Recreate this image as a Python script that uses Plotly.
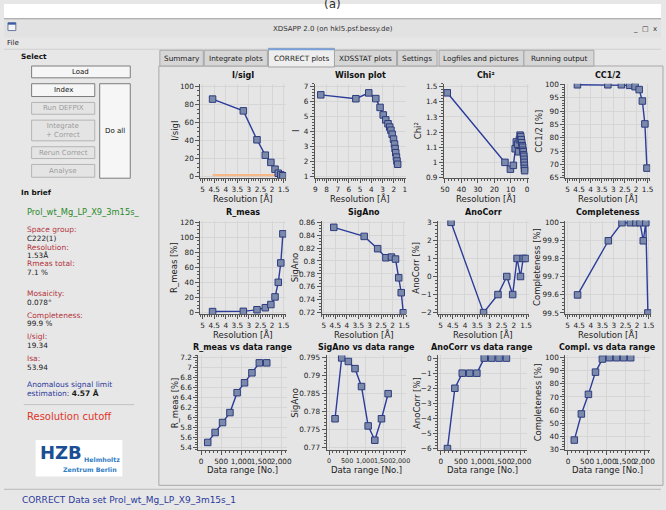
import plotly.graph_objects as go

W, H = 666, 510
FONT = "DejaVu Sans"

# ---------------- data ----------------
res = [4.57, 3.24, 2.65, 2.29, 2.05, 1.87, 1.73, 1.62, 1.53]
isigi = [86, 73, 41, 24, 16, 8.5, 4, 2.2, 1.2]
isigi_cut_x = [4.57, 1.53]
isigi_cut_y = [2, 2]
wilson_res = [8.51, 5.38, 4.23, 3.60, 3.22, 2.94, 2.71, 2.51, 2.36, 2.25, 2.14,
              2.02, 1.93, 1.88, 1.82, 1.76, 1.71, 1.65]
wilson_i = [6.46, 6.20, 6.59, 6.21, 5.62, 5.12, 4.79, 4.53, 4.31, 4.10, 3.83,
            3.51, 3.18, 2.88, 2.60, 2.31, 2.05, 1.83]
chi_res = [48.6, 13.5, 10.2, 8.4, 7.3, 6.6, 5.8, 5.2, 4.7, 4.3, 3.9, 3.6, 3.3,
           3.0, 2.8, 2.6, 2.4, 2.2, 2.05, 1.9, 1.8, 1.7, 1.62, 1.53]
chi2 = [1.46, 1.00, 0.955, 0.98, 1.09, 1.135, 1.12, 1.07, 1.15, 1.18, 1.17, 1.15,
        1.13, 1.11, 1.10, 1.08, 1.07, 1.05, 1.04, 1.02, 1.00, 0.98, 0.96, 0.945]
cc12 = [99.9, 99.9, 99.9, 99.7, 99.2, 98.1, 93.8, 85.2, 68.6]
rmeas = [1.5, 1.8, 3.9, 6.6, 10.8, 20.9, 40.2, 65.9, 104.4]
sigano = [0.852, 0.838, 0.819, 0.805, 0.806, 0.803, 0.774, 0.751, 0.720]
anocorr = [3, -2, -1, 0, -1, 1, 0, 1, 1]
compl = [99.6, 99.9, 100, 100, 100, 100, 99.9, 100, 99.5]

data_range = [165, 350, 535, 720, 900, 1085, 1270, 1455, 1640]
rmeas_dr = [5.5, 5.7, 5.9, 6.1, 6.5, 6.7, 6.9, 7.1, 7.1]
sigano_dr = [0.778, 0.795, 0.794, 0.792, 0.787, 0.776, 0.772, 0.778, 0.785]
anocorr_dr = [-6, -2, -1, -1, -1, 0, 0, 0, 0]
compl_dr = [37, 57, 72, 89, 99, 100, 100, 100, 100]

dr_ticks = [0, 500, 1000, 1500, 2000]
dr_ticktext = ["0", "500", "1,000", "1,500", "2,000"]

tabs = ["Summary", "Integrate plots", "CORRECT plots", "XDSSTAT plots",
        "Settings", "Logfiles and pictures", "Running output"]

# ---------------- helpers ----------------
def PX(x):
    return x / W

def PY(y):
    return 1 - y / H

LINE = "#2b3c9a"
MFILL = "#7b8aaa"
MLINE = "#2e3c7e"

RES_T = "Resolution [Å]"
DR_T = "Data range [No.]"

panels = [
    dict(t="I/sigI", x=res, y=isigi, box=(199, 286, 81, 177), xr=[5.1, 1.39], yr=[-1.5, 103], xd=0.5, yd=20, xt=RES_T, yt="I/sigI", ytx=173),
    dict(t="Wilson plot", x=wilson_res, y=wilson_i, box=(315, 407, 81, 177), xr=[9.05, 0.95], yr=[0.9, 7.2], xd=1, yd=1, xt=RES_T, yt="I", ytx=296),
    dict(t="Chi²", x=chi_res, y=chi2, box=(446, 532, 81, 177), xr=[50.6, -1.0], yr=[0.895, 1.52], xd=10, yd=0.1, xt=RES_T, yt="Chi²", ytx=420),
    dict(t="CC1/2", x=res, y=cc12, box=(569, 655, 81, 177), xr=[5.1, 1.39], yr=[64.8, 100.3], xd=0.5, yd=5, xt=RES_T, yt="CC1/2 [%]", ytx=542),
    dict(t="R_meas", x=res, y=rmeas, box=(199, 286, 220, 315), xr=[5.1, 1.39], yr=[-1.8, 122], xd=0.5, yd=20, xt=RES_T, yt="R_meas [%]", ytx=173),
    dict(t="SigAno", x=res, y=sigano, box=(322, 408, 220, 315), xr=[5.1, 1.39], yr=[0.718, 0.8625], xd=0.5, yd=0.02, xt=RES_T, yt="SigAno", ytx=295),
    dict(t="AnoCorr", x=res, y=anocorr, box=(440, 532, 220, 315), xr=[5.1, 1.39], yr=[-2.08, 3.1], xd=0.5, yd=1, xt=RES_T, yt="AnoCorr [%]", ytx=418),
    dict(t="Completeness", x=res, y=compl, box=(569, 656, 220, 315), xr=[5.1, 1.39], yr=[99.494, 100.012], xd=0.5, yd=0.1, xt=RES_T, yt="Completeness [%]", ytx=541),
    dict(t="R_meas vs data range", x=data_range, y=rmeas_dr, box=(197, 287, 357, 453), xr=[-70, 2150], yr=[5.35, 7.25], xd=None, yd=0.2, xt=DR_T, yt="R_meas [%]", ytx=173),
    dict(t="SigAno vs data range", x=data_range, y=sigano_dr, box=(327, 408, 357, 453), xr=[-70, 2150], yr=[0.7693, 0.7957], xd=None, yd=0.005, xt=DR_T, yt="SigAno", ytx=295),
    dict(t="AnoCorr vs data range", x=data_range, y=anocorr_dr, box=(440, 530, 357, 453), xr=[-70, 2150], yr=[-6.09, 0.18], xd=None, yd=1, xt=DR_T, yt="AnoCorr [%]", ytx=418),
    dict(t="Compl. vs data range", x=data_range, y=compl_dr, box=(569, 655, 357, 453), xr=[-70, 2150], yr=[29.5, 101.8], xd=None, yd=10, xt=DR_T, yt="Completeness [%]", ytx=541),
]

fig = go.Figure()
annotations = []
shapes = []
layout = {}

for i, p in enumerate(panels, start=1):
    x0, x1, y0, y1 = p["box"]
    xa = "xaxis" if i == 1 else f"xaxis{i}"
    ya = "yaxis" if i == 1 else f"yaxis{i}"
    xref = "x" if i == 1 else f"x{i}"
    yref = "y" if i == 1 else f"y{i}"
    common = dict(showline=True, linecolor="#555555", linewidth=1, ticks="outside",
                  ticklen=4, tickcolor="#555555", showgrid=True, gridcolor="#d6d6d6",
                  gridwidth=1, zeroline=False, fixedrange=True, tickangle=0,
                  tickfont=dict(family=FONT, size=7.3, color="#222222"),
                  minor=dict(ticks="outside", ticklen=2, tickcolor="#555555", showgrid=False))
    xcfg = dict(common, domain=[PX(x0), PX(x1)], range=p["xr"], anchor=yref)
    if p["xd"] is None:
        xcfg.update(tickmode="array", tickvals=dr_ticks, ticktext=dr_ticktext)
        xcfg["minor"] = dict(common["minor"], dtick=100)
        if x1 - x0 < 85:
            xcfg["tickfont"] = dict(family=FONT, size=6.4, color="#222222")
    else:
        xcfg.update(dtick=p["xd"], tick0=0)
    ycfg = dict(common, domain=[PY(y1), PY(y0)], range=p["yr"], anchor=xref, dtick=p["yd"], tick0=0)
    layout[xa] = xcfg
    layout[ya] = ycfg
    if i == 1:
        fig.add_trace(go.Scatter(x=isigi_cut_x, y=isigi_cut_y, mode="lines",
                                 line=dict(color="#f5b886", width=2.2),
                                 xaxis=xref, yaxis=yref, showlegend=False, hoverinfo="skip"))
    fig.add_trace(go.Scatter(x=p["x"], y=p["y"], mode="lines+markers",
                             line=dict(color=LINE, width=1.4),
                             marker=dict(symbol="square", size=6.5, color=MFILL,
                                         line=dict(color=MLINE, width=1)),
                             xaxis=xref, yaxis=yref, showlegend=False, hoverinfo="skip"))
    cx = (x0 + x1) / 2
    annotations.append(dict(text=f"<b>{p['t']}</b>", x=PX(cx), y=PY(y0 - 8), xref="paper", yref="paper",
                            showarrow=False, font=dict(family=FONT, size=8, color="#111111"),
                            xanchor="center", yanchor="middle"))
    annotations.append(dict(text=p["xt"], x=PX(cx), y=PY(y1 + 20.5), xref="paper", yref="paper",
                            showarrow=False, font=dict(family=FONT, size=8.5, color="#222222"),
                            xanchor="center", yanchor="middle"))
    annotations.append(dict(text=p["yt"], x=PX(p["ytx"]), y=PY((y0 + y1) / 2), xref="paper", yref="paper",
                            showarrow=False, textangle=-90, font=dict(family=FONT, size=8.5, color="#222222"),
                            xanchor="center", yanchor="middle"))

# ---------------- GUI chrome ----------------
def rect(x0, y0, x1, y1, fill, line="rgba(0,0,0,0)", lw=1):
    shapes.append(dict(type="rect", xref="paper", yref="paper", x0=PX(x0), x1=PX(x1),
                       y0=PY(y1), y1=PY(y0), fillcolor=fill, line=dict(color=line, width=lw),
                       layer="below"))

def hline(x0, x1, y, color, lw=1):
    shapes.append(dict(type="line", xref="paper", yref="paper", x0=PX(x0), x1=PX(x1),
                       y0=PY(y), y1=PY(y), line=dict(color=color, width=lw), layer="below"))

def text(s, x, y, size=7.5, color="#222222", anchor="left", bold=False):
    if bold:
        s = f"<b>{s}</b>"
    annotations.append(dict(text=s, x=PX(x), y=PY(y), xref="paper", yref="paper", showarrow=False,
                            font=dict(family=FONT, size=size, color=color),
                            xanchor=anchor, yanchor="middle"))

# white strip on top + "(a)"
rect(0, 0, W, 15, "#ffffff")
text("(a)", 333, 0, size=12, color="#333333", anchor="center")
# title bar + menu
rect(0, 15, W, 34, "#e2e2e2")
hline(0, W, 15, "#9a9a9a")
rect(4, 19, 12, 27, "#f4f4f4", "#6a7aa0")
rect(4, 19, 12, 21, "#3a5aa8")
text("XDSAPP 2.0 (on hkl5.psf.bessy.de)", 333, 25.5, size=7, color="#333333", anchor="center")
text("_  □  x", 664, 25.5, size=7, color="#333333", anchor="right")
text("File", 1, 40, size=7, color="#222222")
hline(0, W, 46, "#d0d0d0")

# tabs
tab_x = [(158, 202), (203, 267), (268, 335), (335, 398), (399, 439), (441, 527), (527, 598)]
# tab content frame
rect(157, 63, W + 2, 489, "#e5e5e5", "#a9a9a9")
for name, (a, b) in zip(tabs, tab_x):
    if name == "CORRECT plots":
        rect(a, 45, b, 64, "#eeeeee", "#a0a0a0")
        rect(a, 45, b, 47, "#7aa0d8")
    else:
        rect(a, 47, b, 63, "#d6d6d6", "#a6a6a6")
    text(name, (a + b) / 2, 55, size=7.3, color="#222222", anchor="center")

# left panel
text("Select", 15, 53, size=7.3, color="#111111", bold=True)

def button(label, x0, y0, x1, y1, enabled=True):
    if enabled:
        rect(x0, y0, x1, y1, "#f6f6f6", "#7c7c7c")
        col = "#111111"
    else:
        rect(x0, y0, x1, y1, "#e4e4e4", "#b4b4b4")
        col = "#9c9c9c"
    text(label, (x0 + x1) / 2, (y0 + y1) / 2, size=7, color=col, anchor="center")

button("Load", 28, 63, 128, 75)
button("Index", 28, 81, 92, 94)
button("Run DEFPIX", 28, 100, 92, 112, enabled=False)
button("Integrate<br>+ Correct", 28, 118, 92, 139, enabled=False)
button("Rerun Correct", 28, 145, 92, 157, enabled=False)
button("Analyse", 28, 163, 92, 176, enabled=False)
button("Do all", 97, 81, 128, 177)

RED = "#b4343c"
BLK = "#1a1a1a"
text("In brief", 15, 192, size=7.3, color="#111111", bold=True)
text("Prol_wt_Mg_LP_X9_3m15s_", 21, 211, size=8.3, color="#2a8a2a")
info = [("Space group:", "C222(1)", 229), ("Resolution:", "1.53Å", 247),
        ("Rmeas total:", "7.1 %", 264), ("Mosaicity:", "0.078°", 294),
        ("Completeness:", "99.9 %", 316), ("I/sigI:", "19.34", 338),
        ("Isa:", "53.94", 360)]
for lab, val, yy in info:
    text(lab, 21, yy, size=7.5, color=RED)
    text(val, 21, yy + 8.8, size=7.3, color=BLK)
text("Anomalous signal limit", 21, 387, size=7.5, color="#2b3a9c")
text("estimation: <span style='color:#1a1a1a'><b>4.57 Å</b></span>", 21, 396, size=7.5, color="#2b3a9c")
hline(20, 132, 407, "#c2c2c2")
text("Resolution cutoff", 21, 419, size=10, color="#e0352a")
# logo
rect(32, 443, 120, 480, "#ffffff")
text("<b>HZB</b>", 34, 456, size=18, color="#1b4f93")
text("<b>Helmholtz</b>", 79, 463, size=6.3, color="#2f7dc4")
text("<b>Zentrum Berlin</b>", 117, 472.5, size=6.3, color="#2f7dc4", anchor="right")

# bottom status
hline(0, W, 493, "#b8b8b8")
text("CORRECT Data set Prol_wt_Mg_LP_X9_3m15s_1", 16, 504, size=9, color="#2b3a9c")

fig.update_layout(width=W, height=H, margin=dict(l=0, r=0, t=0, b=0),
                  paper_bgcolor="#e7e7e7", plot_bgcolor="#ffffff",
                  showlegend=False, annotations=annotations, shapes=shapes,
                  font=dict(family=FONT))
fig.update_layout(**layout)

fig.write_html("out.html", config={"displayModeBar": False, "staticPlot": True},
               post_script="document.body.style.margin='0';document.body.style.overflow='hidden';")
